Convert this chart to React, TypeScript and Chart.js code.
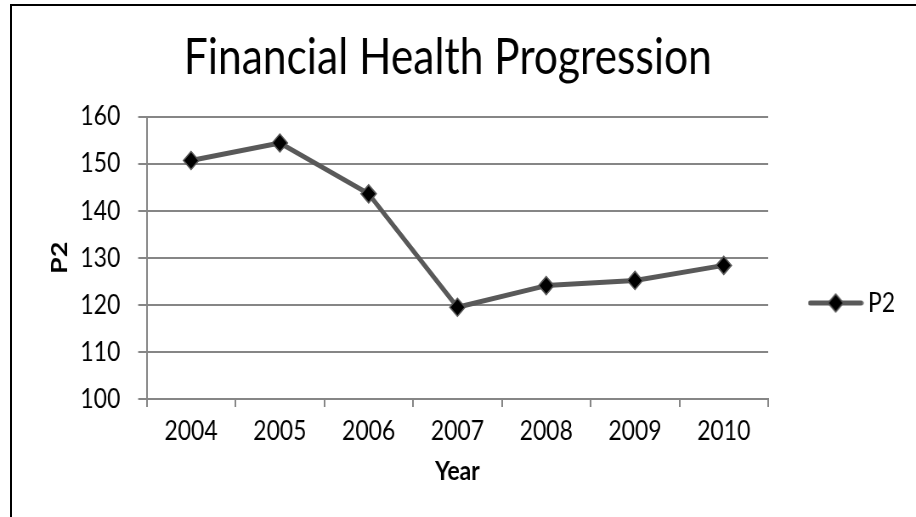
import React, { useEffect, useRef } from 'react';
import { Chart, registerables } from 'chart.js';

Chart.register(...registerables);

// ---- data ----
const years: string[] = ['2004', '2005', '2006', '2007', '2008', '2009', '2010'];
const p2Values: number[] = [150.7, 154.4, 143.6, 119.5, 124.1, 125.2, 128.4];
const yMin = 100;
const yMax = 160;
const yStep = 10;
const seriesLabel = 'P2';
const chartTitle = 'Financial Health Progression';
const xAxisTitle = 'Year';
const yAxisTitle = 'P2';

// ---- style ----
const FONT = 'Lato, "Open Sans", "DejaVu Sans", sans-serif';
const LINE = '#595959';
const GRID = '#868686';
const PAGE_W = 916;
const PAGE_H = 517;
const INTERNAL_W = 1078; // drawn wider, shown condensed like the reference

function makeLegendGlyph(): HTMLCanvasElement {
  const c = document.createElement('canvas');
  c.width = 66;
  c.height = 22;
  const g = c.getContext('2d')!;
  g.strokeStyle = LINE;
  g.lineWidth = 5;
  g.lineCap = 'round';
  g.beginPath();
  g.moveTo(3, 11);
  g.lineTo(63, 11);
  g.stroke();
  g.beginPath();
  g.moveTo(33, 2);
  g.lineTo(42, 11);
  g.lineTo(33, 20);
  g.lineTo(24, 11);
  g.closePath();
  g.fillStyle = '#000';
  g.fill();
  g.lineWidth = 1.5;
  g.strokeStyle = LINE;
  g.stroke();
  return c;
}

export default function App() {
  const ref = useRef<HTMLCanvasElement>(null);

  useEffect(() => {
    const canvas = ref.current;
    if (!canvas) return;
    const glyph = makeLegendGlyph();
    const tickFont = { family: FONT, size: 27 };
    const chart = new Chart(canvas, {
      type: 'line',
      data: {
        labels: years,
        datasets: [
          {
            label: seriesLabel,
            data: p2Values,
            borderColor: LINE,
            borderWidth: 5,
            backgroundColor: '#000',
            borderCapStyle: 'round',
            borderJoinStyle: 'round',
            tension: 0,
            fill: false,
            pointStyle: 'rectRot',
            pointRadius: 9,
            pointHoverRadius: 9,
            pointBackgroundColor: '#000',
            pointBorderColor: LINE,
            pointBorderWidth: 1.5,
          },
        ],
      },
      options: {
        responsive: false,
        animation: false,
        devicePixelRatio: 1,
        layout: { padding: { left: 0, top: 0, right: 24, bottom: 27 } },
        plugins: {
          title: {
            display: true,
            text: chartTitle,
            color: '#000',
            font: { family: FONT, size: 50, weight: 'normal' },
            padding: { top: 28, bottom: 28.7 },
          },
          legend: {
            position: 'right',
            align: 'center',
            maxWidth: 150,
            title: { display: true, text: ' ', font: { size: 10 }, padding: { top: 104, bottom: 0 } },
            labels: {
              usePointStyle: true,
              pointStyle: glyph as any,
              pointStyleWidth: 49,
              padding: 55,
              color: '#000',
              font: tickFont,
            },
          },
          tooltip: { enabled: false },
        },
        scales: {
          x: {
            type: 'category',
            offset: true,
            afterFit: (scale: any) => {
              scale.height = 91;
            },
            grid: {
              display: true,
              drawOnChartArea: false,
              drawTicks: true,
              tickLength: 8,
              offset: true,
              color: GRID,
              lineWidth: 2,
            },
            border: { display: true, color: GRID, width: 2 },
            ticks: { color: '#000', font: tickFont, padding: 8.5, maxRotation: 0, autoSkip: false },
            title: {
              display: true,
              text: xAxisTitle,
              color: '#000',
              font: { family: FONT, size: 27, weight: 'bold' },
              padding: { top: 8, bottom: 3 },
            },
          },
          y: {
            min: yMin,
            max: yMax,
            afterFit: (scale: any) => {
              scale.width = 172.6;
            },
            grid: { color: GRID, lineWidth: 2, tickLength: 10, drawTicks: true },
            border: { display: true, color: GRID, width: 2 },
            ticks: { stepSize: yStep, color: '#000', font: tickFont, padding: 21 },
            title: {
              display: true,
              text: yAxisTitle,
              color: '#000',
              font: { family: FONT, size: 27, weight: 'bold' },
              padding: { top: 54.4, bottom: 8 },
            },
          },
        },
      },
    } as any);
    return () => chart.destroy();
  }, []);

  return (
    <div
      style={{
        position: 'fixed',
        left: 0,
        top: 0,
        width: PAGE_W,
        height: PAGE_H,
        overflow: 'hidden',
        background: '#fff',
      }}
    >
      <div
        style={{
          position: 'absolute',
          left: 10,
          top: 4,
          width: 1000,
          height: 700,
          border: '2px solid #000',
          boxSizing: 'border-box',
        }}
      />
      <canvas
        ref={ref}
        width={INTERNAL_W}
        height={PAGE_H}
        style={{ position: 'absolute', left: 0, top: 0, width: PAGE_W, height: PAGE_H }}
      />
    </div>
  );
}
